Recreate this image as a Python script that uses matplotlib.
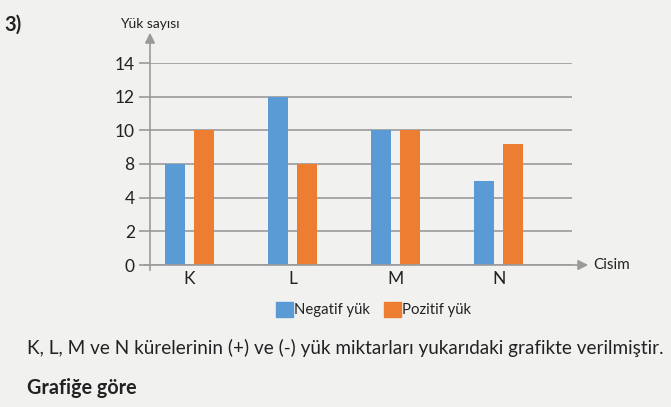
import numpy as np
import matplotlib
matplotlib.use("Agg")
import matplotlib.pyplot as plt

categories = ["K", "L", "M", "N"]
negatif = [8, 12, 10, 6]
pozitif = [10, 8, 10, 9.2]
y_tick_labels = [0, 2, 4, 8, 10, 12, 14]
series_names = ["Negatif yük", "Pozitif yük"]

BG = "#f1f2f0"
BLUE = "#5b9bd5"
ORANGE = "#ed7d31"
GRID = "#9a9a9a"
FONT = ["Lato", "DejaVu Sans"]

W, H = 671, 407
fig = plt.figure(figsize=(W / 100, H / 100), dpi=100, facecolor=BG)

def fx(px):
    return px / W

def fy(py):
    return 1 - py / H

ax_left, ax_right, ax_bottom, ax_top = 150, 571.7, 265, 63
ax = fig.add_axes([fx(ax_left), fy(ax_bottom), fx(ax_right) - fx(ax_left), fy(ax_top) - fy(ax_bottom)])
ax.set_facecolor(BG)

idx = np.arange(len(y_tick_labels), dtype=float)
lab = np.array(y_tick_labels, dtype=float)
fwd = lambda v: np.interp(v, lab, idx)
inv = lambda v: np.interp(v, idx, lab)
ax.set_yscale("function", functions=(fwd, inv))
ax.set_ylim(0, 14)

x = np.arange(len(categories))
bw = 0.194
off = 0.14
ax.bar(x - off, negatif, width=bw, color=BLUE, zorder=3)
ax.bar(x + off, pozitif, width=bw, color=ORANGE, zorder=3)
ax.set_xlim(-0.384, 3.71)

ax.set_yticks(y_tick_labels)
ax.set_yticklabels([str(v) for v in y_tick_labels], fontsize=12.5, family=FONT, color="#222222")
ax.yaxis.grid(True, color=GRID, linewidth=1.2, zorder=1)
ax.tick_params(axis="y", length=8, width=1.2, color=GRID, pad=3)
ax.set_xticks(x)
ax.set_xticklabels(categories, fontsize=12.5, family=FONT, color="#222222")
ax.tick_params(axis="x", length=0, pad=4)
for s in ax.spines.values():
    s.set_visible(False)
ax.minorticks_off()

# axes with arrows
fig.add_artist(matplotlib.patches.FancyArrowPatch(
    (fx(150), fy(273)), (fx(150), fy(30)), transform=fig.transFigure,
    arrowstyle="-|>,head_length=6,head_width=3", color=GRID, lw=1.2, mutation_scale=1, zorder=5))
fig.add_artist(matplotlib.patches.FancyArrowPatch(
    (fx(141.7), fy(265)), (fx(591), fy(265)), transform=fig.transFigure,
    arrowstyle="-|>,head_length=6,head_width=3", color=GRID, lw=1.2, mutation_scale=1, zorder=5))

fig.text(fx(120), fy(24), "Yük sayısı", fontsize=10, family=FONT, color="#222222", va="center", ha="left")
fig.text(fx(593), fy(265), "Cisim", fontsize=11, family=FONT, color="#222222", va="center", ha="left")
fig.text(fx(4), fy(25), "3)", fontsize=14.5, family=FONT, weight="bold", color="#222222", va="center", ha="left")

# legend
fig.add_artist(matplotlib.patches.Rectangle((fx(276), fy(316.7)), fx(16.5), fy(0) - fy(15), color=BLUE, transform=fig.transFigure))
fig.text(fx(293.5), fy(310), series_names[0], fontsize=10.7, family=FONT, color="#222222", va="center", ha="left")
fig.add_artist(matplotlib.patches.Rectangle((fx(384), fy(316.7)), fx(16.5), fy(0) - fy(15), color=ORANGE, transform=fig.transFigure))
fig.text(fx(401.7), fy(310), series_names[1], fontsize=10.7, family=FONT, color="#222222", va="center", ha="left")

fig.text(fx(27), fy(348), "K, L, M ve N kürelerinin (+) ve (-) yük miktarları yukarıdaki grafikte verilmiştir.",
         fontsize=13.6, family=FONT, color="#222222", va="center", ha="left")
fig.text(fx(27), fy(388), "Grafiğe göre", fontsize=14.2, family=FONT, weight="bold", color="#222222", va="center", ha="left")

fig.savefig("out.png", dpi=100, facecolor=BG)
